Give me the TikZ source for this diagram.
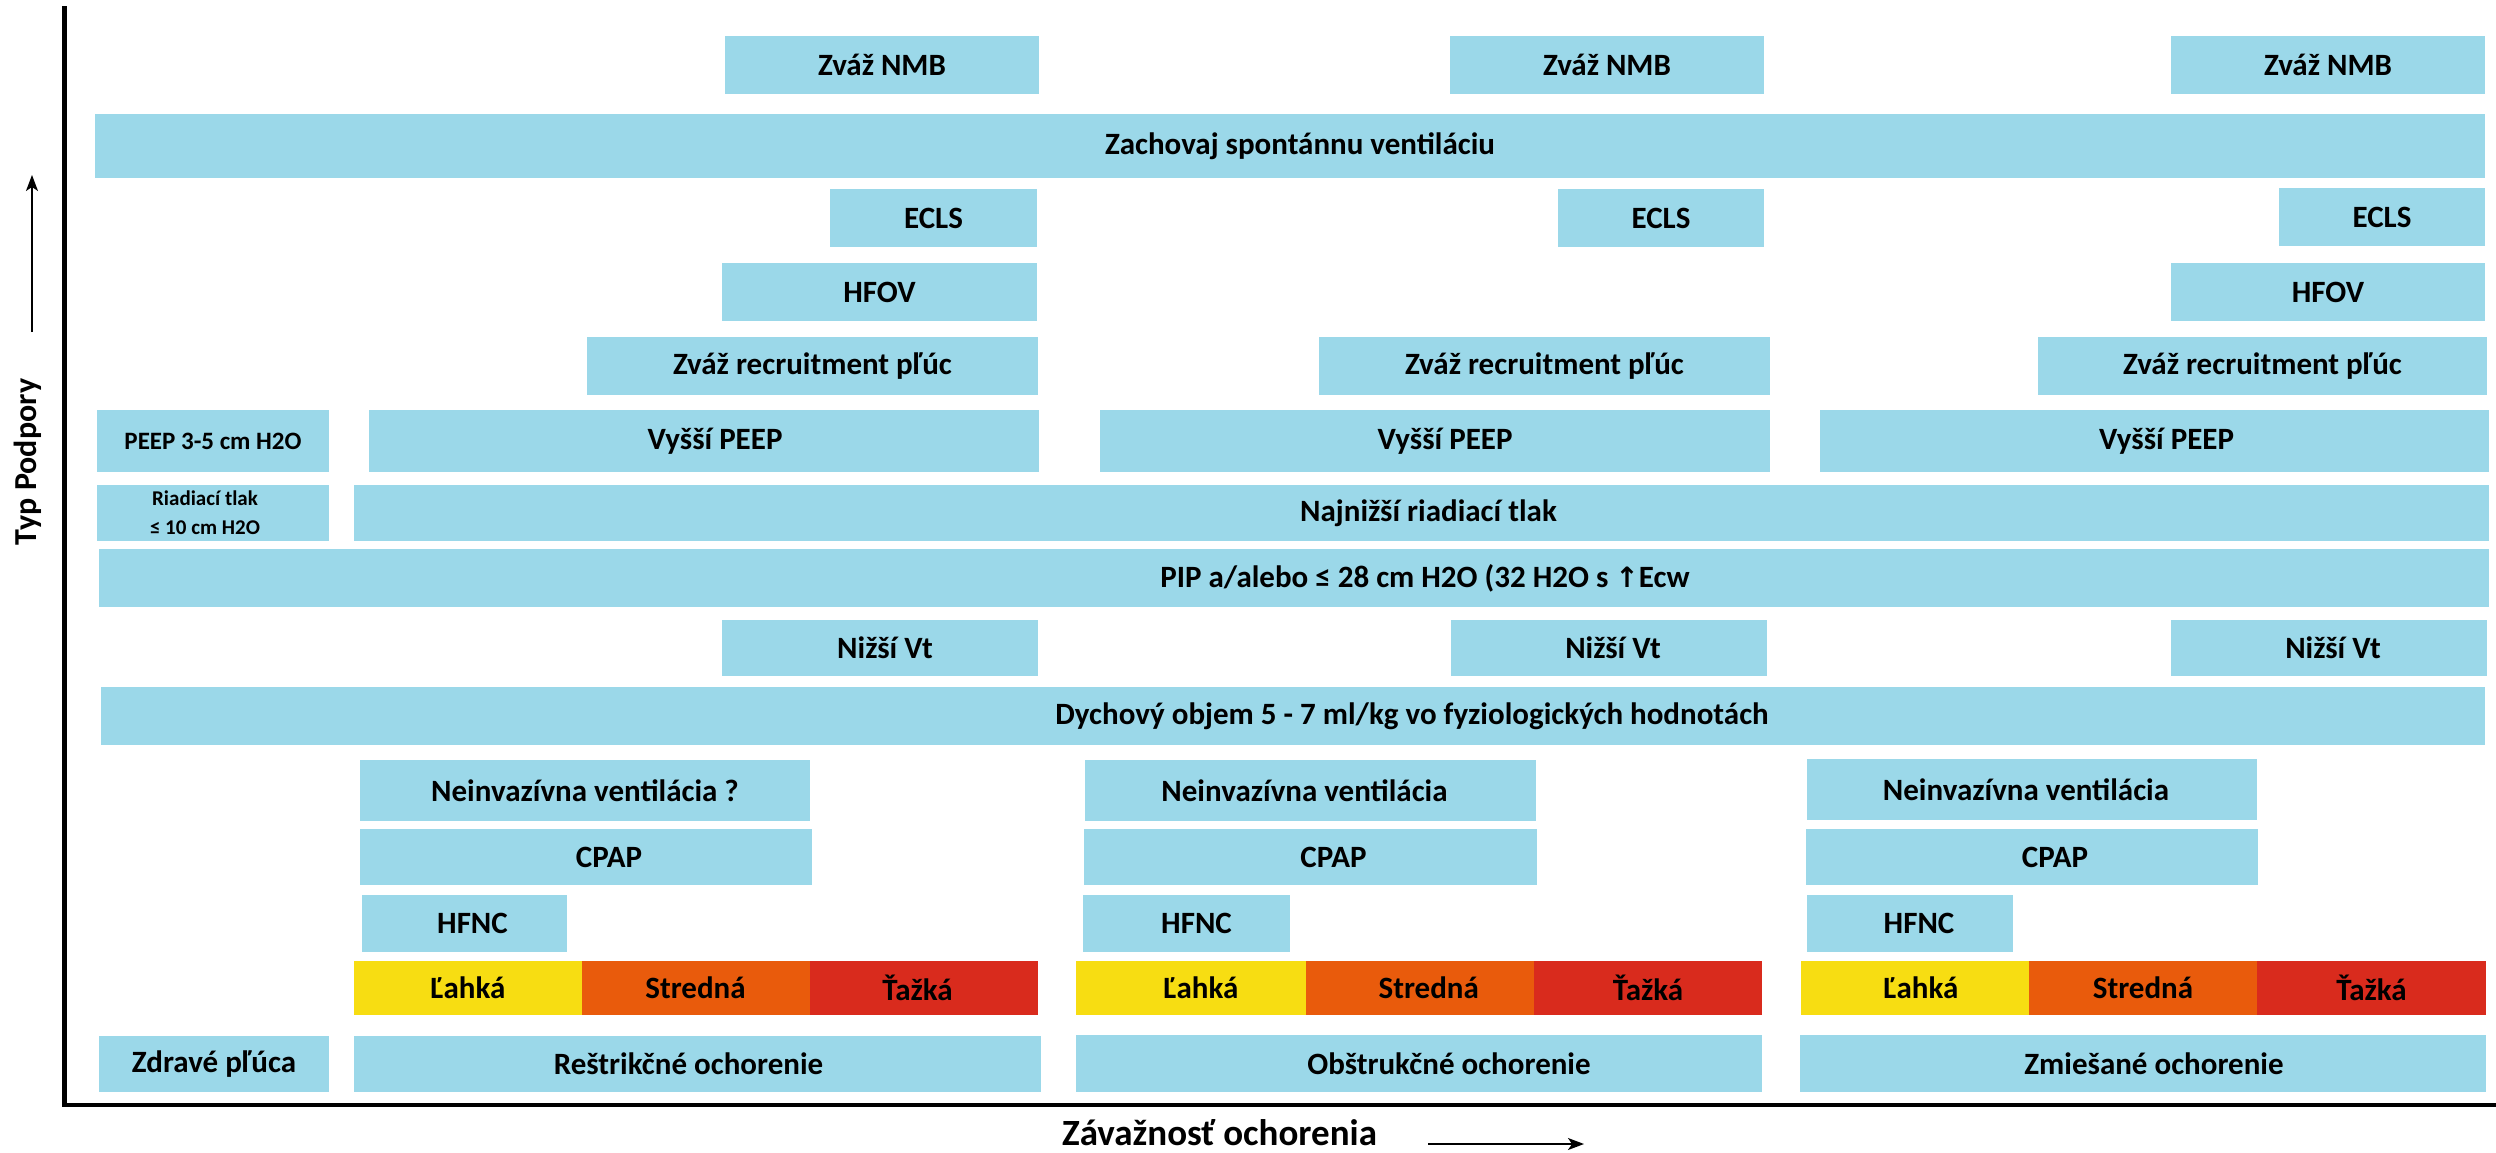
\documentclass[tikz,border=0pt]{standalone}
\usepackage{fontspec}
\setmainfont{Carlito}
\newfontfamily\symfnt{DejaVu Sans}
\usetikzlibrary{arrows.meta}
\definecolor{boxblue}{RGB}{155,216,233}
\definecolor{sevyellow}{RGB}{247,221,18}
\definecolor{sevorange}{RGB}{233,91,12}
\definecolor{sevred}{RGB}{217,43,29}
\tikzset{
  boxbase/.style={draw=none, inner sep=0pt, outer sep=0pt},
  lbl/.style={font=\fontsize{31}{36}\selectfont\bfseries, inner sep=0pt, text=black},
  axisline/.style={line width=4.5pt, line join=miter, line cap=rect},
  axarrow/.style={line width=1.4pt, -{Stealth[length=16pt,width=12pt,inset=4pt]}},
}
% #1 xshift, #2 name, #3 colour, #4 x1, #5 y1, #6 x2, #7 y2, #8 text
\newcommand\mybox[8][0]{%
  \node[boxbase, fill=#3, minimum width={(#6)-(#4)}, minimum height={(#7)-(#5)}] (#2) at ({((#4)+(#6))/2},{((#5)+(#7))/2}) {};
  \node[lbl, xshift=#1] (#2-t) at (#2.center) {#8};
}
\begin{document}
\begin{tikzpicture}[x=1pt,y=-1pt]
\useasboundingbox (0,0) rectangle (2496,1153);
\fill[white] (0,0) rectangle (2496,1153);

% Zvaz NMB
\mybox{nmb1}{boxblue}{725}{36}{1039}{94}{Zváž NMB}
\mybox{nmb2}{boxblue}{1450}{36}{1764}{94}{Zváž NMB}
\mybox{nmb3}{boxblue}{2171}{36}{2485}{94}{Zváž NMB}
% Zachovaj
\mybox[10]{zach}{boxblue}{95}{114}{2485}{178}{Zachovaj spontánnu ventiláciu}
% ECLS
\mybox{ecls1}{boxblue}{830}{189}{1037}{247}{ECLS}
\mybox{ecls2}{boxblue}{1558}{189}{1764}{247}{ECLS}
\mybox{ecls3}{boxblue}{2279}{188}{2485}{246}{ECLS}
% HFOV
\mybox{hfov1}{boxblue}{722}{263}{1037}{321}{HFOV}
\mybox{hfov3}{boxblue}{2171}{263}{2485}{321}{HFOV}
% recruitment
\mybox{rec1}{boxblue}{587}{337}{1038}{395}{Zváž recruitment pľúc}
\mybox{rec2}{boxblue}{1319}{337}{1770}{395}{Zváž recruitment pľúc}
\mybox{rec3}{boxblue}{2038}{337}{2487}{395}{Zváž recruitment pľúc}
% PEEP row
\node[boxbase, fill=boxblue, minimum width=232pt, minimum height=62pt] (peep0) at (213,441) {};
\node[lbl, font=\fontsize{25}{30}\selectfont\bfseries] (peep0-t) at (peep0.center) {PEEP 3-5 cm H2O};
\mybox[11]{peep1}{boxblue}{369}{410}{1039}{472}{Vyšší PEEP}
\mybox[10]{peep2}{boxblue}{1100}{410}{1770}{472}{Vyšší PEEP}
\mybox[12]{peep3}{boxblue}{1820}{410}{2489}{472}{Vyšší PEEP}
% Riadiaci tlak row
\node[boxbase, fill=boxblue, minimum width=232pt, minimum height=56pt] (riad) at (213,513) {};
\node[lbl, font=\fontsize{21}{29}\selectfont\bfseries, align=center, xshift=-8pt] (riad-t) at (riad.center) {Riadiací tlak\\≤ 10 cm H2O};
\mybox[7]{najn}{boxblue}{354}{485}{2489}{541}{Najnižší riadiací tlak}
% PIP
\mybox[131]{pip}{boxblue}{99}{549}{2489}{607}{PIP a/alebo ≤ 28 cm H2O (32 H2O s {\symfnt\fontsize{28}{32}\selectfont ↑}Ecw}
% Nizsi Vt
\mybox[5]{vt1}{boxblue}{722}{620}{1038}{676}{Nižší Vt}
\mybox[4]{vt2}{boxblue}{1451}{620}{1767}{676}{Nižší Vt}
\mybox[4]{vt3}{boxblue}{2171}{620}{2487}{676}{Nižší Vt}
% Dychovy objem
\mybox[119]{dych}{boxblue}{101}{687}{2485}{745}{Dychový objem 5 - 7 ml/kg vo fyziologických hodnotách}
% Neinvazivna
\mybox{ni1}{boxblue}{360}{760}{810}{821}{Neinvazívna ventilácia ?}
\mybox[-6]{ni2}{boxblue}{1085}{760}{1536}{821}{Neinvazívna ventilácia}
\mybox[-6]{ni3}{boxblue}{1807}{759}{2257}{820}{Neinvazívna ventilácia}
% CPAP
\mybox[23]{cp1}{boxblue}{360}{829}{812}{885}{CPAP}
\mybox[23]{cp2}{boxblue}{1084}{829}{1537}{885}{CPAP}
\mybox[23]{cp3}{boxblue}{1806}{829}{2258}{885}{CPAP}
% HFNC
\mybox[8]{hf1}{boxblue}{362}{895}{567}{952}{HFNC}
\mybox[10]{hf2}{boxblue}{1083}{895}{1290}{952}{HFNC}
\mybox[9]{hf3}{boxblue}{1807}{895}{2013}{952}{HFNC}
% Severity
\mybox{l1}{sevyellow}{354}{961}{581.5}{1015}{Ľahká}
\mybox{m1}{sevorange}{581.5}{961}{809.5}{1015}{Stredná}
\mybox[-6]{h1}{sevred}{809.5}{961}{1037.5}{1015}{Ťažká}
\mybox[10]{l2}{sevyellow}{1076}{961}{1305.5}{1015}{Ľahká}
\mybox[9]{m2}{sevorange}{1305.5}{961}{1534}{1015}{Stredná}
\mybox{h2}{sevred}{1534}{961}{1762}{1015}{Ťažká}
\mybox[6]{l3}{sevyellow}{1800.5}{961}{2029}{1015}{Ľahká}
\mybox{m3}{sevorange}{2029}{961}{2257}{1015}{Stredná}
\mybox{h3}{sevred}{2257}{961}{2486}{1015}{Ťažká}
% Disease
\mybox{zdr}{boxblue}{99}{1036}{329}{1092}{Zdravé pľúca}
\mybox[-9]{res}{boxblue}{354}{1036}{1041}{1092}{Reštrikčné ochorenie}
\mybox[30]{obs}{boxblue}{1076}{1035}{1762}{1092}{Obštrukčné ochorenie}
\mybox[11]{zmi}{boxblue}{1800}{1035}{2486}{1092}{Zmiešané ochorenie}

% Axes
\coordinate (ytop) at (64.5,8);
\coordinate (orig) at (64.5,1105);
\coordinate (xend) at (2496,1105);
\draw[axisline] (ytop) -- (orig) -- (xend);

% Axis labels and arrows
\node[lbl, font=\fontsize{32}{36}\selectfont\bfseries, rotate=90, anchor=base] (ylab) at (36,462) {Typ Podpory};
\coordinate (ya1) at (32,332);
\coordinate (ya2) at (32,175);
\draw[axarrow] (ya1) -- (ya2);
\node[lbl, font=\fontsize{37}{42}\selectfont\bfseries, anchor=base west] (xlab) at (1062,1145) {Závažnosť ochorenia};
\coordinate (xa1) at (1428,1144);
\coordinate (xa2) at (1584,1144);
\draw[axarrow] (xa1) -- (xa2);
\end{tikzpicture}
\end{document}
